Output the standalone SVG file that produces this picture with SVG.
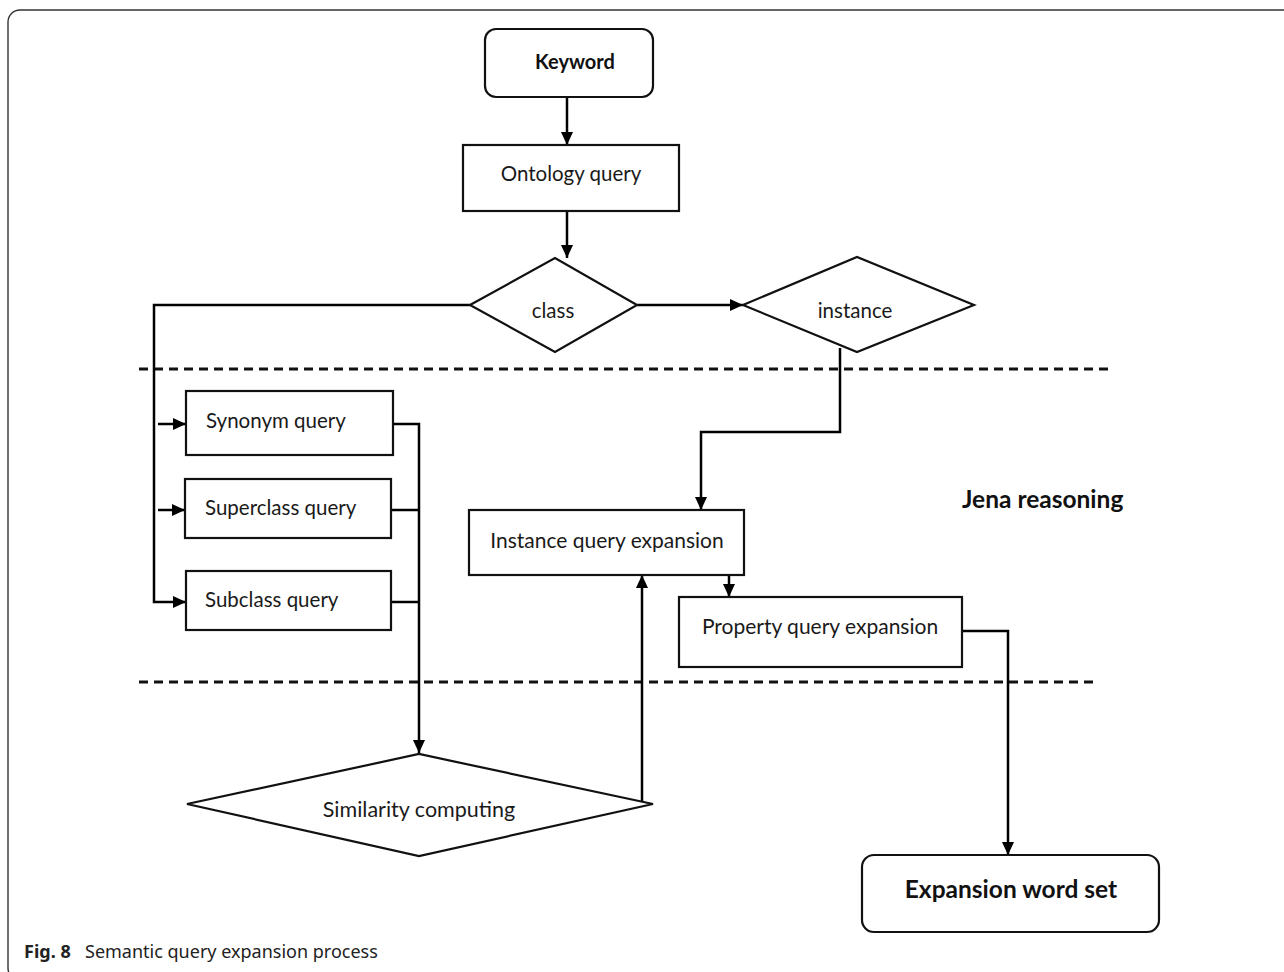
<svg xmlns="http://www.w3.org/2000/svg" width="1284" height="972" viewBox="0 0 1284 972">
<defs>
<style>
.frame{fill:none;stroke:#333;stroke-width:1.4}
.box{fill:#fff;stroke:#111;stroke-width:2.2}
.con{fill:none;stroke:#000;stroke-width:2.5}
.dash{fill:none;stroke:#111;stroke-width:2.8;stroke-dasharray:9 6}
.t{font-family:Lato,"Liberation Sans",sans-serif;font-size:20.5px;fill:#1a1a1a}
.tb{font-family:Lato,"Liberation Sans",sans-serif;font-size:24.5px;font-weight:bold;fill:#111}
.cap{font-family:"Noto Sans","Open Sans",sans-serif;font-size:18px;fill:#222}
</style>
<marker id="ah" markerUnits="userSpaceOnUse" markerWidth="13" markerHeight="12" viewBox="0 0 13 12" refX="13" refY="6" orient="auto">
<path d="M0,0 L13,6 L0,12 z" fill="#000"/>
</marker>
</defs>
<rect width="1284" height="972" fill="#fff"/>
<rect class="frame" x="8" y="10" width="1300" height="970" rx="12"/>

<g id="dividers">
<path class="dash" d="M139,369 H1110"/>
<path class="dash" d="M139,682 H1094"/>
</g>

<g id="connectors">
<path class="con" d="M567,97 V145" marker-end="url(#ah)"/>
<path class="con" d="M567,211 V258" marker-end="url(#ah)"/>
<path class="con" d="M637,305 H743" marker-end="url(#ah)"/>
<path class="con" d="M470,305 H154 V602 H186" marker-end="url(#ah)"/>
<path class="con" d="M158,424 H186" marker-end="url(#ah)"/>
<path class="con" d="M158,510 H185" marker-end="url(#ah)"/>
<path class="con" d="M393,424 H419 V753" marker-end="url(#ah)"/>
<path class="con" d="M391,510 H419"/>
<path class="con" d="M391,602 H419"/>
<path class="con" d="M840,348 V432 H701 V510" marker-end="url(#ah)"/>
<path class="con" d="M642,802 V575" marker-end="url(#ah)"/>
<path class="con" d="M729,575 V597" marker-end="url(#ah)"/>
<path class="con" d="M962,631 H1008 V855" marker-end="url(#ah)"/>
</g>

<g id="keyword">
<rect class="box" x="485" y="29" width="168" height="68" rx="11"/>
<text class="tb" x="575" y="69" text-anchor="middle" style="font-size:20px">Keyword</text>
</g>
<g id="ontology">
<rect class="box" x="463" y="145" width="216" height="66"/>
<text class="t" x="571" y="181" text-anchor="middle">Ontology query</text>
</g>
<g id="class">
<polygon class="box" points="470,305 555,258 637,305 555,352"/>
<text class="t" x="553" y="318" text-anchor="middle">class</text>
</g>
<g id="instance">
<polygon class="box" points="743,305 857,257 974,305 857,352"/>
<text class="t" x="855" y="318" text-anchor="middle">instance</text>
</g>
<g id="synonym">
<rect class="box" x="186" y="391" width="207" height="64"/>
<text class="t" x="206" y="428">Synonym query</text>
</g>
<g id="superclass">
<rect class="box" x="185" y="479" width="206" height="59"/>
<text class="t" x="205" y="515">Superclass query</text>
</g>
<g id="subclass">
<rect class="box" x="186" y="571" width="205" height="59"/>
<text class="t" x="205" y="607">Subclass query</text>
</g>
<g id="instance-expansion">
<rect class="box" x="469" y="510" width="275" height="65"/>
<text class="t" x="607" y="548" text-anchor="middle" style="font-size:21px">Instance query expansion</text>
</g>
<g id="property-expansion">
<rect class="box" x="679" y="597" width="283" height="70"/>
<text class="t" x="820" y="634" text-anchor="middle" style="font-size:21px">Property query expansion</text>
</g>
<g id="similarity">
<polygon class="box" points="187,804 419,754 653,804 419,856"/>
<text class="t" x="419" y="817" text-anchor="middle" style="font-size:21.5px">Similarity computing</text>
</g>
<g id="expansion-word-set">
<rect class="box" x="862" y="855" width="297" height="77" rx="12"/>
<text class="tb" x="1011" y="898" text-anchor="middle">Expansion word set</text>
</g>
<g id="jena-label">
<text class="tb" x="962" y="508">Jena reasoning</text>
</g>
<g id="caption">
<text class="cap" x="24" y="958"><tspan font-weight="bold">Fig. 8</tspan><tspan x="85">Semantic query expansion process</tspan></text>
</g>
</svg>
